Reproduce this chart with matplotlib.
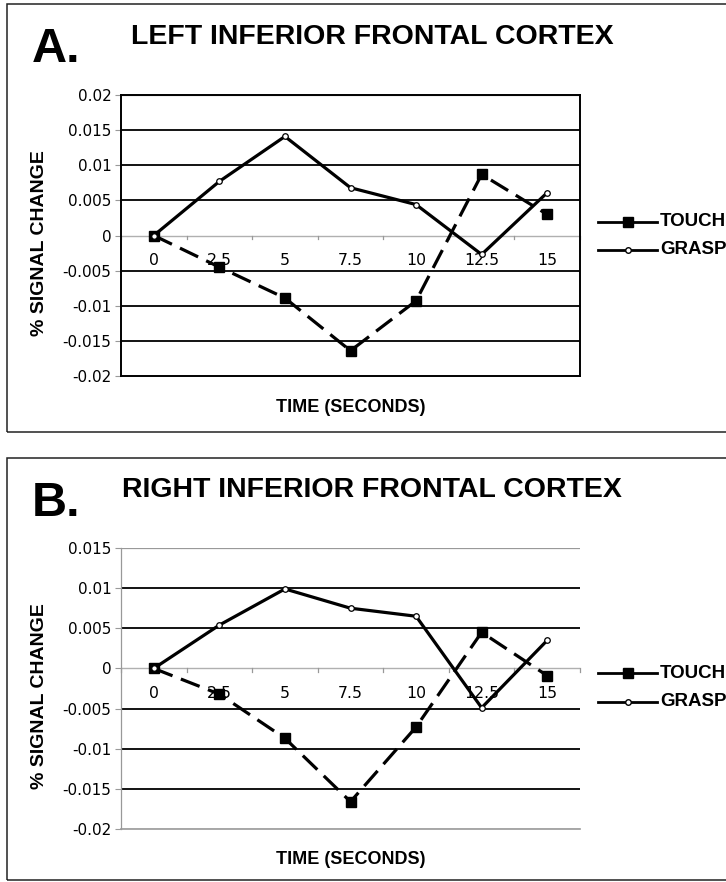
import matplotlib
matplotlib.use("Agg")
import matplotlib.pyplot as plt
from matplotlib.lines import Line2D
from matplotlib.patches import Rectangle
import matplotlib.transforms as mtransforms

time_labels = ["0", "2.5", "5", "7.5", "10", "12.5", "15"]
series_names = ["TOUCH", "GRASP"]

left_touch = [0.0, -0.0045, -0.0089, -0.0164, -0.0093, 0.0087, 0.0030]
left_grasp = [0.0, 0.0077, 0.0141, 0.0068, 0.0044, -0.0027, 0.0061]
right_touch = [0.0, -0.0032, -0.0087, -0.0166, -0.0073, 0.0045, -0.0009]
right_grasp = [0.0, 0.0054, 0.0099, 0.0075, 0.0065, -0.0049, 0.0035]

left_yticks = [0.02, 0.015, 0.01, 0.005, 0, -0.005, -0.01, -0.015, -0.02]
right_yticks = [0.015, 0.01, 0.005, 0, -0.005, -0.01, -0.015, -0.02]

W, H = 726, 882
fig = plt.figure(figsize=(W / 100, H / 100), dpi=100)

ARIAL = ["Liberation Sans", "DejaVu Sans"]
TICKF = ["DejaVu Sans"]


def fx(px):
    return px / W


def fy(py):
    return 1 - py / H


def fmt(v):
    return "0" if v == 0 else ("%g" % v)


def panel(letter, title, touch, grasp, yticks, off, ax_top, ax_bot, box_bot,
          leg_y1, leg_y2, bold_grid, frame):
    # panel border
    fig.add_artist(Rectangle((fx(7), fy(box_bot)), fx(760) - fx(7),
                             fy(4.5 + off) - fy(box_bot),
                             transform=fig.transFigure, fill=False,
                             edgecolor="#222222", lw=1.1))
    fig.text(fx(32), fy(50 + off), letter, fontsize=35, fontweight="bold",
             family=ARIAL, ha="left", va="center")
    fig.text(fx(372), fy(36.5 + off), title, fontsize=20.5, fontweight="bold",
             family=ARIAL, ha="center", va="center")

    ax = fig.add_axes([fx(121), fy(ax_bot), fx(580) - fx(121), fy(ax_top) - fy(ax_bot)])
    x = list(range(len(time_labels)))
    ymin, ymax = min(yticks), max(yticks)
    ax.set_xlim(-0.5, len(time_labels) - 0.5)
    ax.set_ylim(ymin, ymax)

    for v in yticks:
        if v == 0:
            ax.axhline(v, color="#b0b0b0", lw=1.0, zorder=1)
        elif v in bold_grid:
            ax.axhline(v, color="black", lw=1.3, zorder=1)
        else:
            ax.axhline(v, color="#999999", lw=0.9, zorder=1)

    ax.plot(x, touch, color="black", lw=2.3, dashes=(6.3, 2.8), marker="s",
            markersize=7, markerfacecolor="black", markeredgecolor="black", zorder=3)
    ax.plot(x, grasp, color="black", lw=2.3, marker="o", markersize=4,
            markerfacecolor="white", markeredgecolor="black", markeredgewidth=0.9, zorder=4)

    ax.set_yticks(yticks)
    ax.set_yticklabels([fmt(v) for v in yticks], fontsize=11, family=TICKF)
    ax.tick_params(axis="y", length=4, color="#999999", pad=3)
    ax.set_xticks([])

    # category tick marks on the zero line
    span = ymax - ymin
    for k in range(len(time_labels) + 1):
        ax.plot([k - 0.5, k - 0.5], [0, -span * 0.014],
                color="#999999", lw=0.9, zorder=1, clip_on=False)
    trans = ax.transData
    for xi, lab in zip(x, time_labels):
        ax.annotate(lab, xy=(xi, 0), xycoords=trans, xytext=(0, -18),
                    textcoords="offset points", ha="center", va="center",
                    fontsize=11.3, family=TICKF, zorder=2)

    for side, sp in ax.spines.items():
        sp.set_visible(False)
    if frame:
        for side in ["left", "right", "top", "bottom"]:
            ax.spines[side].set_visible(True)
            ax.spines[side].set_color("black")
            ax.spines[side].set_linewidth(1.4)
    else:
        ax.spines["left"].set_visible(True)
        ax.spines["left"].set_color("#999999")
        ax.spines["left"].set_linewidth(0.9)
        ax.spines["bottom"].set_visible(True)
        ax.spines["bottom"].set_color("#999999")
        ax.spines["bottom"].set_linewidth(1.2)
    ax.set_facecolor("white")

    fig.text(fx(40), fy(243 + off), "% SIGNAL CHANGE", rotation=90,
             fontsize=14, fontweight="bold", family=ARIAL, ha="center", va="center")
    fig.text(fx(351), fy(407 + off), "TIME (SECONDS)", fontsize=13, fontweight="bold",
             family=ARIAL, ha="center", va="center")

    # legend
    fig.add_artist(Line2D([fx(598), fx(657)], [fy(leg_y1), fy(leg_y1)], color="black", lw=2.0,
                          transform=fig.transFigure))
    fig.add_artist(Line2D([fx(628)], [fy(leg_y1)], marker="s", markersize=7, color="black",
                          transform=fig.transFigure))
    fig.add_artist(Line2D([fx(598), fx(657)], [fy(leg_y2), fy(leg_y2)], color="black", lw=2.0,
                          transform=fig.transFigure))
    fig.add_artist(Line2D([fx(628)], [fy(leg_y2)], marker="o", markersize=4,
                          markerfacecolor="white", markeredgecolor="black",
                          transform=fig.transFigure))
    fig.text(fx(660), fy(leg_y1), series_names[0], fontsize=13.5, fontweight="bold",
             family=ARIAL, ha="left", va="center")
    fig.text(fx(660), fy(leg_y2), series_names[1], fontsize=13.5, fontweight="bold",
             family=ARIAL, ha="left", va="center")


panel("A.", "LEFT INFERIOR FRONTAL CORTEX", left_touch, left_grasp, left_yticks,
      0, 95, 376, 432, 222, 250,
      bold_grid=[0.015, 0.01, 0.005, -0.005, -0.01, -0.015], frame=True)
panel("B.", "RIGHT INFERIOR FRONTAL CORTEX", right_touch, right_grasp, right_yticks,
      453, 548, 829, 880, 673, 702,
      bold_grid=[0.01, 0.005, -0.005, -0.01, -0.015], frame=False)

fig.savefig("out.png", dpi=100)
